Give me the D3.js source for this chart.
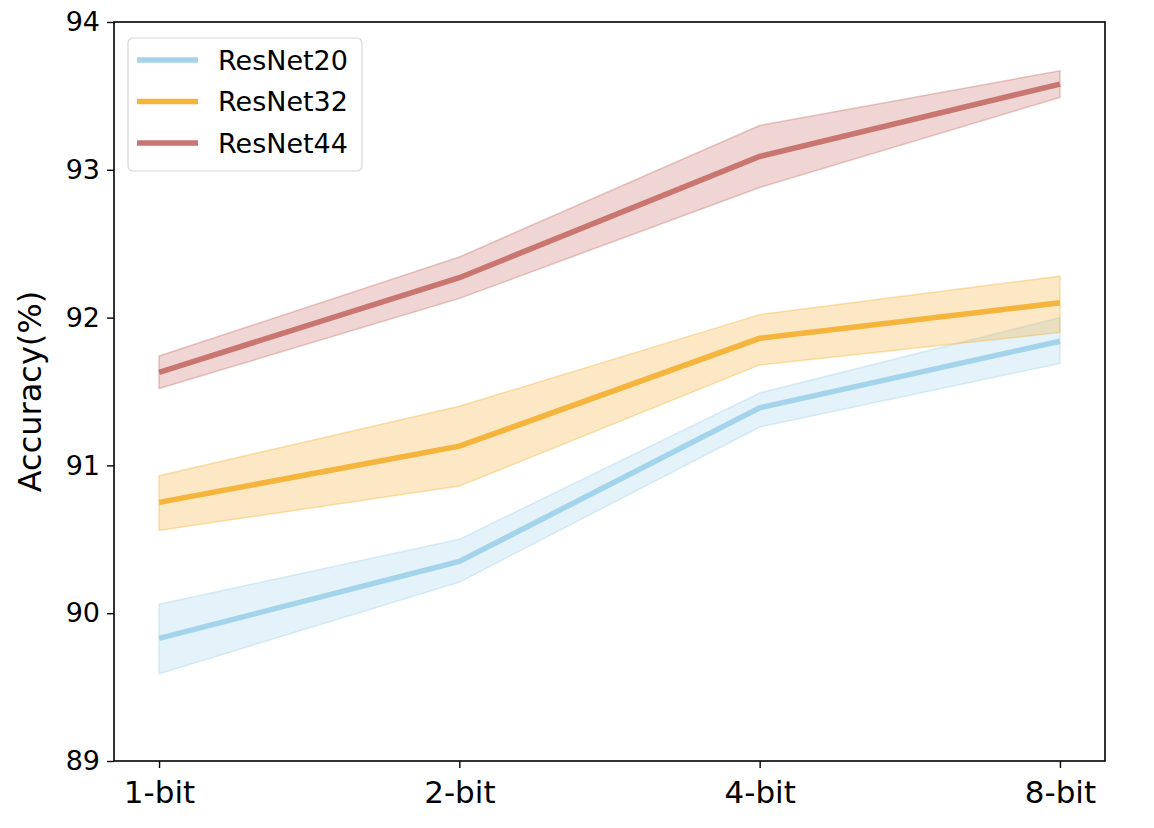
<!DOCTYPE html>
<html>
<head>
<meta charset="utf-8">
<script src="https://cdn.jsdelivr.net/npm/d3@7"></script>
<style>
  body { margin: 0; background: #fff; }
  text { font-family: "DejaVu Sans", sans-serif; }
</style>
</head>
<body>
<svg id="chart" width="1154" height="828"></svg>
<script>
// data
var categories = ["1-bit", "2-bit", "4-bit", "8-bit"];
var seriesNames = ["ResNet20", "ResNet32", "ResNet44"];
var seriesColors = ["#a4d4ec", "#f5b43c", "#c97570"];

var resnet20Mean = [89.83, 90.35, 91.39, 91.84];
var resnet20Low  = [89.59, 90.21, 91.26, 91.69];
var resnet20High = [90.06, 90.50, 91.49, 92.00];

var resnet32Mean = [90.75, 91.13, 91.86, 92.10];
var resnet32Low  = [90.56, 90.86, 91.68, 91.90];
var resnet32High = [90.93, 91.40, 92.02, 92.28];

var resnet44Mean = [91.63, 92.27, 93.09, 93.58];
var resnet44Low  = [91.52, 92.13, 92.88, 93.49];
var resnet44High = [91.74, 92.41, 93.30, 93.67];

var yTicks = [89, 90, 91, 92, 93, 94];

var series = [
  {name: seriesNames[0], color: seriesColors[0], mean: resnet20Mean, low: resnet20Low, high: resnet20High},
  {name: seriesNames[1], color: seriesColors[1], mean: resnet32Mean, low: resnet32Low, high: resnet32High},
  {name: seriesNames[2], color: seriesColors[2], mean: resnet44Mean, low: resnet44Low, high: resnet44High}
];

var svg = d3.select("#chart");
var plotLeft = 114, plotRight = 1105, plotTop = 22, plotBottom = 761;

// matplotlib-like 5% margins on x
var x = d3.scaleLinear()
    .domain([-0.15, categories.length - 1 + 0.15])
    .range([plotLeft, plotRight]);
var y = d3.scaleLinear().domain([89, 94]).range([plotBottom, plotTop]);

var g = svg.append("g");

// bands
series.forEach(function(s) {
  var area = d3.area()
      .x(function(d, i) { return x(i); })
      .y0(function(d, i) { return y(s.low[i]); })
      .y1(function(d, i) { return y(s.high[i]); });
  g.append("path")
    .datum(s.mean)
    .attr("d", area)
    .attr("fill", s.color)
    .attr("fill-opacity", 0.3)
    .attr("stroke", s.color)
    .attr("stroke-opacity", 0.4)
    .attr("stroke-width", 1.5);
});

// mean lines
series.forEach(function(s) {
  var line = d3.line()
      .x(function(d, i) { return x(i); })
      .y(function(d) { return y(d); });
  g.append("path")
    .datum(s.mean)
    .attr("d", line)
    .attr("fill", "none")
    .attr("stroke", s.color)
    .attr("stroke-width", 5.5);
});

// frame
svg.append("rect")
  .attr("x", plotLeft).attr("y", plotTop)
  .attr("width", plotRight - plotLeft).attr("height", plotBottom - plotTop)
  .attr("fill", "none").attr("stroke", "#000").attr("stroke-width", 1.6);

// axes
var xAxis = svg.append("g")
  .attr("transform", "translate(0," + plotBottom + ")")
  .call(d3.axisBottom(x).tickValues(d3.range(categories.length))
    .tickFormat(function(i) { return categories[i]; })
    .tickSize(7).tickPadding(13));
xAxis.select(".domain").remove();
xAxis.selectAll("line").attr("stroke-width", 1.4);
xAxis.selectAll("text").attr("font-size", 31).attr("fill", "#000")
  .style("font-family", "DejaVu Sans");

var yAxis = svg.append("g")
  .attr("transform", "translate(" + plotLeft + ",0)")
  .call(d3.axisLeft(y).tickValues(yTicks).tickSize(7).tickPadding(7)
    .tickFormat(d3.format("d")));
yAxis.select(".domain").remove();
yAxis.selectAll("line").attr("stroke-width", 1.4);
yAxis.selectAll("text").attr("font-size", 27).attr("fill", "#000")
  .style("font-family", "DejaVu Sans");

svg.append("text")
  .attr("transform", "translate(41," + ((plotTop + plotBottom) / 2) + ") rotate(-90)")
  .attr("text-anchor", "middle")
  .attr("font-size", 32)
  .text("Accuracy(%)");

// legend
var legend = svg.append("g");
legend.append("rect")
  .attr("x", 128).attr("y", 38).attr("width", 234).attr("height", 133)
  .attr("rx", 5).attr("fill", "#fff").attr("fill-opacity", 0.8)
  .attr("stroke", "#d8d8d8").attr("stroke-width", 1.2);
series.forEach(function(s, i) {
  var ly = 60 + i * 41.5;
  legend.append("line")
    .attr("x1", 137).attr("x2", 198).attr("y1", ly).attr("y2", ly)
    .attr("stroke", s.color).attr("stroke-width", 5.5);
  legend.append("text")
    .attr("x", 218).attr("y", ly + 9.5)
    .attr("font-size", 27)
    .text(s.name);
});
</script>
</body>
</html>
